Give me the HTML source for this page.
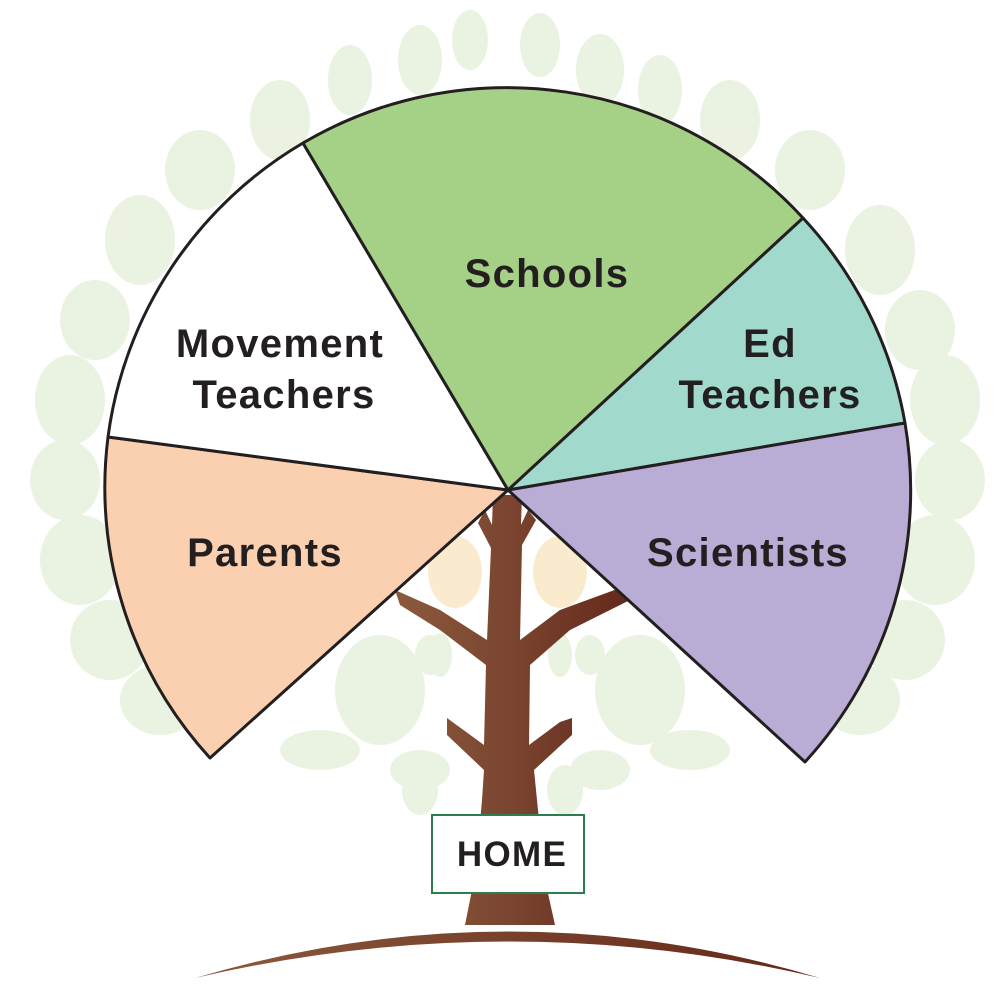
<!DOCTYPE html>
<html><head><style>
html,body{margin:0;padding:0;background:#fff;}
svg{display:block;}
text{font-family:"Liberation Sans",sans-serif;font-weight:bold;fill:#231f20;letter-spacing:1.3px;}
</style></head><body>
<svg width="1000" height="1000" viewBox="0 0 1000 1000" xmlns="http://www.w3.org/2000/svg">
<defs>
<linearGradient id="tr" x1="0" x2="1" y1="0" y2="0">
<stop offset="0" stop-color="#8b5a3c"/><stop offset="0.5" stop-color="#7a4430"/><stop offset="1" stop-color="#64281a"/>
</linearGradient>
<linearGradient id="gr" x1="0" x2="1" y1="0" y2="0">
<stop offset="0" stop-color="#8b5a3c"/><stop offset="1" stop-color="#64281a"/>
</linearGradient>
</defs>
<g opacity="0.5">
<g fill="#d7e6c4">
<ellipse cx="420" cy="60" rx="22" ry="35"/><ellipse cx="470" cy="40" rx="18" ry="30"/><ellipse cx="540" cy="45" rx="20" ry="32"/><ellipse cx="600" cy="70" rx="24" ry="36"/>
<ellipse cx="350" cy="80" rx="22" ry="35"/><ellipse cx="660" cy="90" rx="22" ry="35"/><ellipse cx="280" cy="120" rx="30" ry="40"/><ellipse cx="730" cy="120" rx="30" ry="40"/>
<ellipse cx="200" cy="170" rx="35" ry="40"/><ellipse cx="810" cy="170" rx="35" ry="40"/><ellipse cx="140" cy="240" rx="35" ry="45"/><ellipse cx="880" cy="250" rx="35" ry="45"/>
<ellipse cx="95" cy="320" rx="35" ry="40"/><ellipse cx="920" cy="330" rx="35" ry="40"/><ellipse cx="70" cy="400" rx="35" ry="45"/><ellipse cx="945" cy="400" rx="35" ry="45"/>
<ellipse cx="65" cy="480" rx="35" ry="40"/><ellipse cx="950" cy="480" rx="35" ry="40"/><ellipse cx="80" cy="560" rx="40" ry="45"/><ellipse cx="935" cy="560" rx="40" ry="45"/>
<ellipse cx="110" cy="640" rx="40" ry="40"/><ellipse cx="905" cy="640" rx="40" ry="40"/><ellipse cx="160" cy="700" rx="40" ry="35"/><ellipse cx="860" cy="700" rx="40" ry="35"/>
<ellipse cx="380" cy="690" rx="45" ry="55"/><ellipse cx="640" cy="690" rx="45" ry="55"/><ellipse cx="320" cy="750" rx="40" ry="20"/><ellipse cx="690" cy="750" rx="40" ry="20"/>
<ellipse cx="420" cy="770" rx="30" ry="20"/><ellipse cx="600" cy="770" rx="30" ry="20"/><ellipse cx="440" cy="655" rx="12" ry="22"/><ellipse cx="560" cy="655" rx="12" ry="22"/>
<ellipse cx="430" cy="655" rx="15" ry="20"/><ellipse cx="590" cy="655" rx="15" ry="20"/><ellipse cx="420" cy="790" rx="18" ry="25"/><ellipse cx="565" cy="790" rx="18" ry="25"/>
</g>
<ellipse cx="455" cy="572" rx="27" ry="36" fill="#f7d9a0"/><ellipse cx="560" cy="572" rx="27" ry="36" fill="#f7d9a0"/>
</g>
<path d="M493 495 L522 495 L521 525 L528 510 L536 520 L522 545 L520 640 L560 610 L620 588 L630 600 L570 630 L530 665 L529 745 L560 722 L572 718 L572 735 L534 770 L537 800 L545 880 L555 925 L465 925 L476 870 L482 800 L484 770 L447 735 L447 718 L484 745 L486 665 L440 630 L400 605 L395 590 L440 610 L487 640 L491 548 L478 523 L485 510 L492 525 Z" fill="url(#tr)"/>
<path d="M195 978 Q510 885 820 978 Q510 905 195 978 Z" fill="url(#gr)"/>
<g stroke="#231f20" stroke-width="3" stroke-linejoin="round">
<path d="M508 490 L210 758 A402 402 0 0 1 108 437 Z" fill="#fbd0b0"/>
<path d="M508 490 L108 437 A402 402 0 0 1 303 143 Z" fill="#ffffff"/>
<path d="M508 490 L303 143 A402 402 0 0 1 803 218 Z" fill="#a5d186"/>
<path d="M508 490 L803 218 A402 402 0 0 1 905 423 Z" fill="#a1d9cd"/>
<path d="M508 490 L905 423 A402 402 0 0 1 805 762 Z" fill="#b9acd5"/>
</g>
<text x="547" y="287" font-size="40" text-anchor="middle">Schools</text>
<text x="280" y="357" font-size="40" text-anchor="middle">Movement</text>
<text x="284" y="408" font-size="40" text-anchor="middle">Teachers</text>
<text x="770" y="357" font-size="40" text-anchor="middle">Ed</text>
<text x="770" y="408" font-size="40" text-anchor="middle">Teachers</text>
<text x="265" y="566" font-size="40" text-anchor="middle">Parents</text>
<text x="748" y="566" font-size="40" text-anchor="middle">Scientists</text>
<rect x="432" y="815" width="152" height="78" fill="#fff" stroke="#2e7d4f" stroke-width="2"/>
<text x="512" y="866" font-size="35" text-anchor="middle">HOME</text>
</svg>
</body></html>
